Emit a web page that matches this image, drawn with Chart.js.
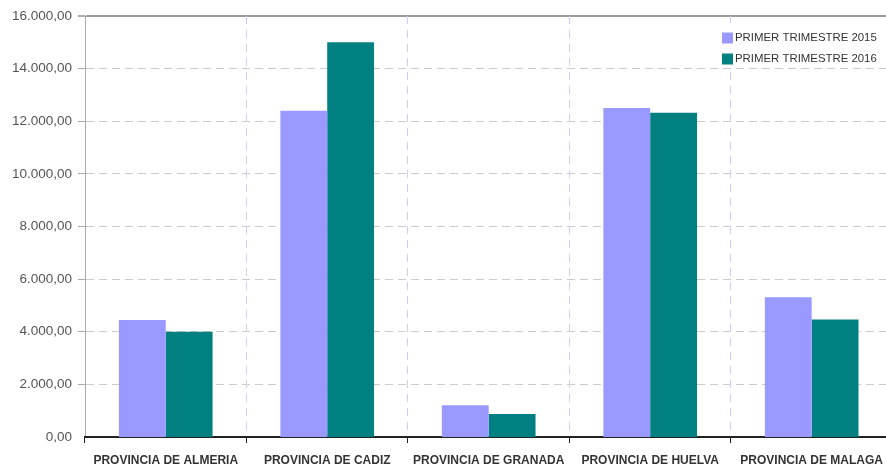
<!DOCTYPE html>
<html>
<head>
<meta charset="utf-8">
<script src="https://cdn.jsdelivr.net/npm/chart.js@4"></script>
<style>
  html, body { margin: 0; padding: 0; background: #fff; overflow: hidden; }
  #wrap { width: 886px; height: 467px; overflow: hidden; }
</style>
</head>
<body>
<div id="wrap"><canvas id="chart" width="893" height="467"></canvas></div>
<script>
const provincias = ["PROVINCIA DE ALMERIA", "PROVINCIA DE CADIZ", "PROVINCIA DE GRANADA", "PROVINCIA DE HUELVA", "PROVINCIA DE MALAGA"];
const trimestre2015 = [4450, 12400, 1210, 12500, 5310];
const trimestre2016 = [4000, 15000, 870, 12320, 4470];
const serieNames = ["PRIMER TRIMESTRE 2015", "PRIMER TRIMESTRE 2016"];
const serieColors = ["#9999ff", "#008080"];

// formato 16.000,00
const fmt = (v) => {
  const s = Math.round(v).toString().replace(/\B(?=(\d{3})+(?!\d))/g, ".");
  return s + ",00";
};

// leyenda dibujada dentro del area del grafico, arriba a la derecha
const legendBox = {
  id: "legendBox",
  afterDraw(chart) {
    const ctx = chart.ctx;
    ctx.save();
    ctx.fillStyle = "#fff";
    ctx.fillRect(712, 23, 181, 43);
    ctx.font = "11.4px 'Liberation Sans', Arial, sans-serif";
    ctx.textBaseline = "middle";
    chart.data.datasets.forEach((ds, i) => {
      const y = 38 + i * 21;
      ctx.fillStyle = ds.backgroundColor;
      ctx.fillRect(722, y - 5.5, 11, 11);
      ctx.fillStyle = "#333";
      ctx.fillText(ds.label, 735, y);
    });
    ctx.restore();
  }
};

new Chart(document.getElementById("chart"), {
  type: "bar",
  data: {
    labels: provincias,
    datasets: [
      { label: serieNames[0], data: trimestre2015, backgroundColor: serieColors[0] },
      { label: serieNames[1], data: trimestre2016, backgroundColor: serieColors[1] }
    ]
  },
  options: {
    responsive: false,
    animation: false,
    layout: { padding: { top: 16, right: 0, left: 0, bottom: 0 } },
    datasets: { bar: { categoryPercentage: 0.58, barPercentage: 1 } },
    plugins: {
      legend: { display: false },
      tooltip: { enabled: false }
    },
    scales: {
      y: {
        min: 0,
        max: 16000,
        afterFit: (s) => { s.width = 85; },
        ticks: {
          stepSize: 2000,
          padding: 6,
          color: "#555",
          font: { family: "'Liberation Sans', Arial, sans-serif", size: 13.5 },
          callback: (v) => fmt(v)
        },
        grid: {
          color: (c) => (c.tick && c.tick.value === 16000 ? "#999" : "#ccc"),
          lineWidth: (c) => (c.tick && c.tick.value === 0 ? 0 : (c.tick && c.tick.value === 16000 ? 2 : 1)),
          tickColor: "#aaa",
          tickLength: 7
        },
        border: {
          color: "#aaa",
          width: 1,
          dash: (c) => (c.tick && c.tick.value === 16000 ? [] : [8, 5])
        }
      },
      x: {
        afterFit: (s) => { s.height = 30; },
        ticks: {
          padding: 10,
          color: "#333",
          font: { family: "'Liberation Sans', Arial, sans-serif", size: 12, weight: "bold" }
        },
        grid: {
          offset: true,
          // la primera linea coincide con el eje y, no se dibuja
          color: (c) => (c.index === 0 ? "rgba(0,0,0,0)" : "#ccccff"),
          tickColor: "#222",
          tickLength: 6
        },
        border: {
          color: "#222",
          width: 2,
          dash: [8, 6]
        }
      }
    }
  },
  plugins: [legendBox]
});
</script>
</body>
</html>
